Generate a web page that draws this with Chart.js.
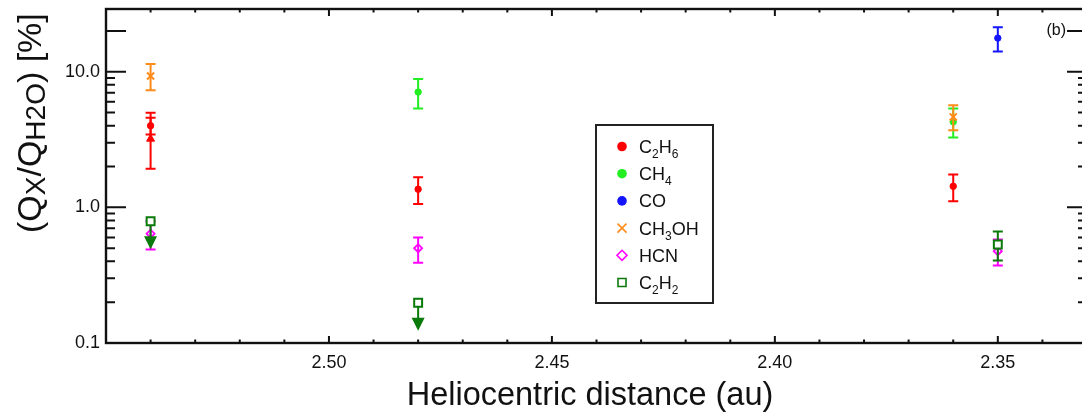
<!DOCTYPE html>
<html><head><meta charset="utf-8">
<script src="https://cdn.jsdelivr.net/npm/chart.js@4.4.1/dist/chart.umd.min.js"></script>
<style>
html,body{margin:0;padding:0;overflow:hidden;background:#fff;width:1082px;height:417px}
canvas{display:block}
</style></head>
<body><canvas id="c" width="1100" height="417" style="width:1100px;height:417px"></canvas>
<script>
const FONT = '"Liberation Sans", Arial, Helvetica, sans-serif';

// ---- data (heliocentric distance in au, Q_X/Q_H2O in %) ----
const distC2H6 = [2.54, 2.48, 2.36];
const valC2H6  = [4.0, 1.36, 1.43];
const loC2H6   = [3.45, 1.06, 1.11];
const hiC2H6   = [4.57, 1.67, 1.75];

const distC2H6b = [2.54];
const valC2H6b  = [3.2];
const loC2H6b   = [1.93];
const hiC2H6b   = [4.98];

const distCH4 = [2.48, 2.36];
const valCH4  = [7.08, 4.27];
const loCH4   = [5.36, 3.27];
const hiCH4   = [8.83, 5.36];

const distCO = [2.35];
const valCO  = [17.7];
const loCO   = [14.1];
const hiCO   = [21.3];

const distCH3OH = [2.54, 2.36];
const valCH3OH  = [9.3, 4.64];
const loCH3OH   = [7.3, 3.71];
const hiCH3OH   = [11.4, 5.67];

const distHCN = [2.54, 2.48, 2.35];
const valHCN  = [0.64, 0.50, 0.475];
const loHCN   = [0.49, 0.39, 0.372];
const hiHCN   = [0.79, 0.60, 0.58];

const distC2H2 = [2.54, 2.48, 2.35];
const valC2H2  = [0.79, 0.198, 0.533];
const loC2H2   = [null, null, 0.405];
const hiC2H2   = [null, null, 0.665];
const limC2H2  = [true, true, false];   // upper limits

const xTickValues = [2.50, 2.45, 2.40, 2.35];
const xTickLabels = ['2.50', '2.45', '2.40', '2.35'];
const xMinorValues = [2.54, 2.53, 2.52, 2.51, 2.49, 2.48, 2.47, 2.46, 2.44, 2.43, 2.42, 2.41, 2.39, 2.38, 2.37, 2.36, 2.34];
const yTickValues = [0.1, 1, 10];
const yTickLabels = ['0.1', '1.0', '10.0'];
const yLongValues = [0.1, 1, 10, 20];
const yMinorValues = [0.2, 0.3, 0.4, 0.5, 0.6, 0.7, 0.8, 0.9, 2, 3, 4, 5, 6, 7, 8, 9];

const RED = '#ff0000', GREEN = '#22ee22', BLUE = '#1414ff', ORANGE = '#ff8c1a', MAGENTA = '#ff00ff', DKGREEN = '#0a7a0a';

function pts(xs, ys) { return xs.map((x, i) => ({x: x, y: ys[i]})); }

const datasets = [
  {label: 'C2H6', data: pts(distC2H6, valC2H6), errLo: loC2H6, errHi: hiC2H6, errColor: RED,
   pointStyle: 'circle', pointRadius: 3.2, backgroundColor: RED, borderColor: RED, borderWidth: 1, order: 5},
  {label: 'C2H6b', data: pts(distC2H6b, valC2H6b), errLo: loC2H6b, errHi: hiC2H6b, errColor: RED,
   pointStyle: 'triangle', pointRadius: 4.6, backgroundColor: RED, borderColor: RED, borderWidth: 1, order: 6},
  {label: 'CH4', data: pts(distCH4, valCH4), errLo: loCH4, errHi: hiCH4, errColor: GREEN,
   pointStyle: 'circle', pointRadius: 3.2, backgroundColor: GREEN, borderColor: GREEN, borderWidth: 1, order: 4},
  {label: 'CO', data: pts(distCO, valCO), errLo: loCO, errHi: hiCO, errColor: BLUE,
   pointStyle: 'circle', pointRadius: 3.2, backgroundColor: BLUE, borderColor: BLUE, borderWidth: 1, order: 3},
  {label: 'CH3OH', data: pts(distCH3OH, valCH3OH), errLo: loCH3OH, errHi: hiCH3OH, errColor: ORANGE,
   pointStyle: 'crossRot', pointRadius: 5, backgroundColor: ORANGE, borderColor: ORANGE, borderWidth: 2, order: 2},
  {label: 'HCN', data: pts(distHCN, valHCN), errLo: loHCN, errHi: hiHCN, errColor: MAGENTA,
   pointStyle: 'rectRot', pointRadius: 4, backgroundColor: 'rgba(255,255,255,0)', borderColor: MAGENTA, borderWidth: 1.8, order: 1},
  {label: 'C2H2', data: pts(distC2H2, valC2H2), errLo: loC2H2, errHi: hiC2H2, limit: limC2H2, errColor: DKGREEN,
   pointStyle: 'rect', pointRadius: 5.6, backgroundColor: '#ffffff', borderColor: DKGREEN, borderWidth: 2, order: 0}
];
datasets.forEach(d => { d.showLine = false; d.pointHoverRadius = d.pointRadius; d.clip = false; });

const legendItems = [
  {parts: [['C'], ['2', 1], ['H'], ['6', 1]], style: 'circle', color: RED},
  {parts: [['CH'], ['4', 1]], style: 'circle', color: GREEN},
  {parts: [['CO']], style: 'circle', color: BLUE},
  {parts: [['CH'], ['3', 1], ['OH']], style: 'cross', color: ORANGE},
  {parts: [['HCN']], style: 'diamond', color: MAGENTA},
  {parts: [['C'], ['2', 1], ['H'], ['2', 1]], style: 'square', color: DKGREEN}
];
const yTitleParts = [['(Q'], ['X', 1], ['/Q'], ['H2O', 1], [') [%]']];

// draw text with subscripts, starting at (x,y) baseline, left aligned
function drawRich(ctx, parts, x, y, size, subSize, subDy) {
  let cx = x;
  parts.forEach(p => {
    const sub = !!p[1];
    ctx.font = (sub ? subSize : size) + 'px ' + FONT;
    ctx.fillText(p[0], cx, y + (sub ? subDy : 0));
    cx += ctx.measureText(p[0]).width;
  });
  return cx - x;
}

function legendMarker(ctx, style, x, y, color) {
  ctx.save();
  ctx.strokeStyle = color; ctx.fillStyle = color; ctx.lineWidth = 1.6;
  ctx.beginPath();
  if (style === 'circle') { ctx.arc(x, y, 4.8, 0, Math.PI * 2); ctx.fill(); }
  else if (style === 'cross') { ctx.moveTo(x - 4.5, y - 4.5); ctx.lineTo(x + 4.5, y + 4.5); ctx.moveTo(x - 4.5, y + 4.5); ctx.lineTo(x + 4.5, y - 4.5); ctx.stroke(); }
  else if (style === 'diamond') { ctx.moveTo(x, y - 5); ctx.lineTo(x + 5, y); ctx.lineTo(x, y + 5); ctx.lineTo(x - 5, y); ctx.closePath(); ctx.stroke(); }
  else if (style === 'square') { ctx.rect(x - 4, y - 4, 8, 8); ctx.stroke(); }
  ctx.restore();
}

const errPlugin = {
  id: 'errbars',
  beforeDatasetDraw(chart, args) {
    const ds = chart.data.datasets[args.index];
    if (!ds.errLo) return;
    const xs = chart.scales.x, ys = chart.scales.y, ctx = chart.ctx;
    ctx.save();
    ctx.strokeStyle = ds.errColor; ctx.fillStyle = ds.errColor; ctx.lineWidth = 2;
    ds.data.forEach((p, i) => {
      const px = xs.getPixelForValue(p.x), py = ys.getPixelForValue(p.y);
      if (ds.limit && ds.limit[i]) {
        ctx.beginPath(); ctx.moveTo(px, py); ctx.lineTo(px, py + 16); ctx.stroke();
        ctx.beginPath(); ctx.moveTo(px - 6.5, py + 15); ctx.lineTo(px + 6.5, py + 15); ctx.lineTo(px, py + 28); ctx.closePath(); ctx.fill();
      } else if (ds.errLo[i] != null) {
        const y1 = ys.getPixelForValue(ds.errLo[i]), y2 = ys.getPixelForValue(ds.errHi[i]);
        ctx.beginPath();
        ctx.moveTo(px, y1); ctx.lineTo(px, y2);
        ctx.moveTo(px - 5, y1); ctx.lineTo(px + 5, y1);
        ctx.moveTo(px - 5, y2); ctx.lineTo(px + 5, y2);
        ctx.stroke();
      }
    });
    ctx.restore();
  }
};

const framePlugin = {
  id: 'frame',
  afterDraw(chart) {
    const ctx = chart.ctx, a = chart.chartArea, xs = chart.scales.x, ys = chart.scales.y;
    ctx.save();
    ctx.strokeStyle = '#111'; ctx.lineWidth = 2.4;
    ctx.strokeRect(a.left, a.top, a.right - a.left, a.bottom - a.top);
    ctx.lineWidth = 2;
    ctx.beginPath();
    xTickValues.forEach(v => { const px = xs.getPixelForValue(v);
      ctx.moveTo(px, a.bottom); ctx.lineTo(px, a.bottom - 7); ctx.moveTo(px, a.top); ctx.lineTo(px, a.top + 7); });
    xMinorValues.forEach(v => { const px = xs.getPixelForValue(v);
      ctx.moveTo(px, a.bottom); ctx.lineTo(px, a.bottom - 3.5); ctx.moveTo(px, a.top); ctx.lineTo(px, a.top + 3.5); });
    yLongValues.forEach(v => { const py = ys.getPixelForValue(v);
      ctx.moveTo(a.left, py); ctx.lineTo(a.left + 20, py); ctx.moveTo(a.right, py); ctx.lineTo(a.right - 20, py); });
    yMinorValues.forEach(v => { const py = ys.getPixelForValue(v);
      ctx.moveTo(a.left, py); ctx.lineTo(a.left + 9, py); ctx.moveTo(a.right, py); ctx.lineTo(a.right - 9, py); });
    ctx.stroke();

    // panel tag
    ctx.fillStyle = '#111';
    ctx.font = '16px ' + FONT; ctx.textAlign = 'right'; ctx.textBaseline = 'middle';
    ctx.fillText('(b)', 1066, 31);

    // x title
    ctx.textAlign = 'center'; ctx.textBaseline = 'alphabetic';
    ctx.font = '32.5px ' + FONT;
    ctx.fillText('Heliocentric distance (au)', 590, 405);

    // y title (rotated, with subscripts)
    ctx.save();
    ctx.translate(41, 233);
    ctx.rotate(-Math.PI / 2);
    ctx.textAlign = 'left';
    drawRich(ctx, yTitleParts, 0, 0, 34, 28, 4);
    ctx.restore();

    // legend
    ctx.lineWidth = 2; ctx.strokeStyle = '#222';
    ctx.strokeRect(596, 125, 117, 178);
    ctx.textAlign = 'left'; ctx.textBaseline = 'alphabetic'; ctx.fillStyle = '#111';
    legendItems.forEach((it, i) => {
      const cy = 146.5 + i * 27.2;
      legendMarker(ctx, it.style, 622, cy, it.color);
      ctx.fillStyle = '#111';
      drawRich(ctx, it.parts, 639, cy + 6.5, 18, 12, 5);
    });
    ctx.restore();
  }
};

new Chart(document.getElementById('c'), {
  type: 'scatter',
  data: {datasets: datasets},
  options: {
    responsive: false, animation: false, devicePixelRatio: 1,
    layout: {padding: {top: 9, right: 13, left: 0, bottom: 0}},
    plugins: {legend: {display: false}, tooltip: {enabled: false}, title: {display: false}},
    scales: {
      x: {
        type: 'linear', reverse: true, min: 2.33, max: 2.55,
        afterBuildTicks: s => { s.ticks = xTickValues.map(v => ({value: v})); },
        afterFit: s => { s.height = 74; s.paddingLeft = 0; s.paddingRight = 0; s.paddingTop = 0; s.paddingBottom = 0; },
        grid: {display: false, drawTicks: false}, border: {display: false},
        ticks: {padding: 9, color: '#111', font: {size: 18, family: FONT}, maxRotation: 0, autoSkip: false,
          callback: (v, i) => xTickLabels[i]}
      },
      y: {
        type: 'logarithmic', min: 0.1, max: 29,
        afterBuildTicks: s => { s.ticks = yTickValues.map(v => ({value: v})); },
        afterFit: s => { s.width = 106; s.paddingTop = 0; s.paddingBottom = 0; s.paddingLeft = 0; s.paddingRight = 0; },
        grid: {display: false, drawTicks: false}, border: {display: false},
        ticks: {padding: 6, color: '#111', font: {size: 18, family: FONT}, autoSkip: false,
          callback: (v, i) => yTickLabels[i]}
      }
    }
  },
  plugins: [errPlugin, framePlugin]
});
</script>
</body></html>
